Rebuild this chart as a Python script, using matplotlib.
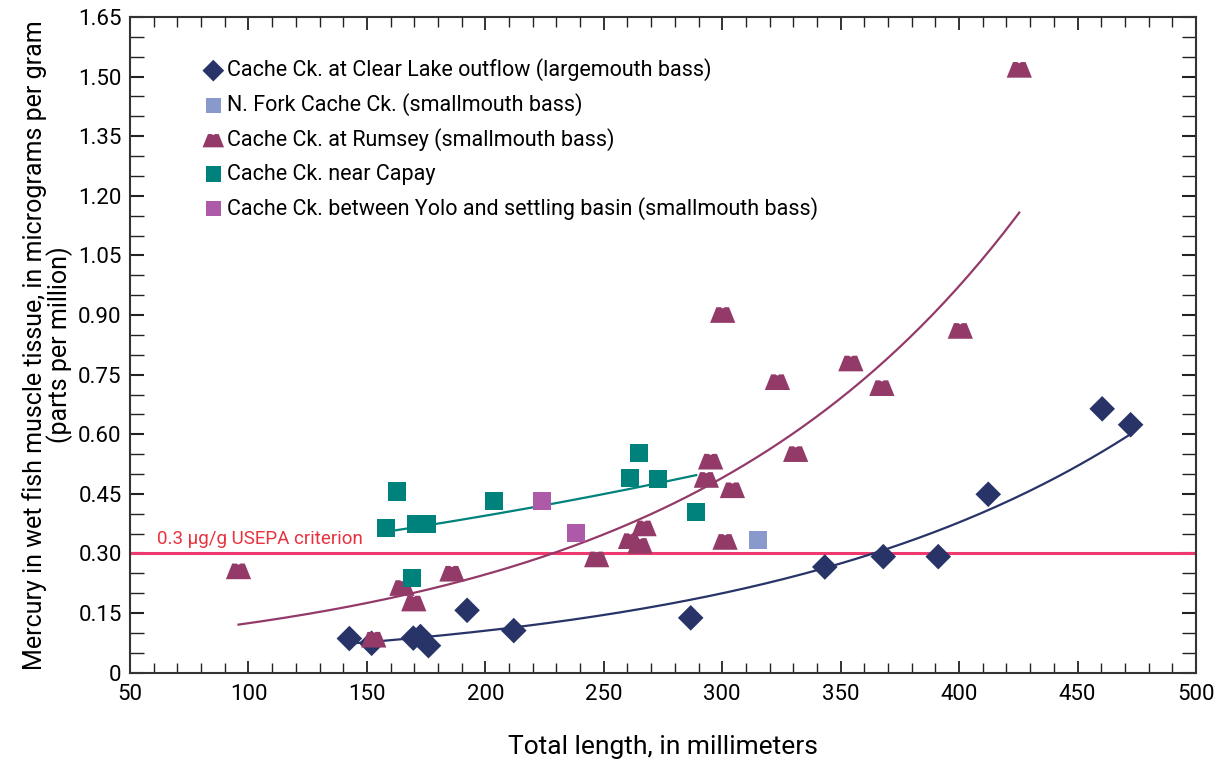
import numpy as np
import matplotlib
matplotlib.use("Agg")
import matplotlib.pyplot as plt
from matplotlib.ticker import MultipleLocator, FixedLocator

plt.rcParams['font.family'] = ['Roboto', 'DejaVu Sans']

# ---- data ----
clear_x = [142.6, 152.0, 169.6, 172.6, 176.0, 192.3, 212.0, 286.7, 343.3, 368.0, 391.2, 412.3, 460.4, 472.4]
clear_y = [0.086, 0.074, 0.087, 0.091, 0.068, 0.157, 0.106, 0.138, 0.266, 0.292, 0.292, 0.449, 0.664, 0.624]

nfork_x = [315.1]
nfork_y = [0.335]

rumsey_x = [95.8, 152.9, 164.8, 169.8, 185.9, 247.0, 261.3, 265.3, 267.0, 293.3, 295.1, 304.3,
            301.2, 331.0, 300.2, 323.3, 354.3, 367.4, 400.5, 425.4]
rumsey_y = [0.255, 0.083, 0.213, 0.174, 0.249, 0.285, 0.331, 0.319, 0.363, 0.485, 0.531, 0.459,
            0.329, 0.550, 0.900, 0.731, 0.778, 0.716, 0.860, 1.517]

capay_x = [158.0, 162.7, 170.9, 175.4, 169.0, 203.8, 264.9, 261.0, 273.0, 289.0]
capay_y = [0.365, 0.456, 0.375, 0.375, 0.239, 0.431, 0.552, 0.491, 0.487, 0.405]

yolo_x = [224.0, 238.1]
yolo_y = [0.431, 0.351]

criterion = 0.3

labels = ["Cache Ck. at Clear Lake outflow (largemouth bass)",
          "N. Fork Cache Ck. (smallmouth bass)",
          "Cache Ck. at Rumsey (smallmouth bass)",
          "Cache Ck. near Capay",
          "Cache Ck. between Yolo and settling basin (smallmouth bass)"]

x_ticks = [50, 100, 150, 200, 250, 300, 350, 400, 450, 500]
y_ticks = [0, 0.15, 0.30, 0.45, 0.60, 0.75, 0.90, 1.05, 1.20, 1.35, 1.50, 1.65]
y_ticklabels = ["0", "0.15", "0.30", "0.45", "0.60", "0.75", "0.90", "1.05", "1.20", "1.35", "1.50", "1.65"]

# colours
c_clear = "#283468"
c_nfork = "#8a99cb"
c_rumsey = "#933a69"
c_capay = "#00827c"
c_yolo = "#ad5ba8"
c_crit = "#ee3a6f"
c_crit_text = "#e8323f"

fig = plt.figure(figsize=(12.14, 7.64), dpi=100)
ax = fig.add_axes([130/1214, 1 - 672.7/764, (1196-130)/1214, (672.7-17)/764])

# trapezoid marker for Rumsey
trap = [(-1.0, -0.62), (1.0, -0.62), (0.5, 0.62), (0.15, 0.62), (0.0, 0.52), (-0.15, 0.62), (-0.5, 0.62), (-1.0, -0.62)]

def expfit(xs, ys):
    xs = np.asarray(xs); ys = np.asarray(ys)
    b, lna = np.polyfit(xs, np.log(ys), 1)
    xx = np.linspace(xs.min(), xs.max(), 200)
    return xx, np.exp(lna) * np.exp(b * xx)

# criterion line
ax.axhline(criterion, color=c_crit, lw=2.2, zorder=2)
ax.text(61.5, criterion + 0.013, "0.3 µg/g USEPA criterion", color=c_crit_text, fontsize=13.5,
        ha='left', va='bottom', zorder=3)

# trend lines
for xs, ys, c in [(clear_x, clear_y, c_clear), (rumsey_x, rumsey_y, c_rumsey), (capay_x, capay_y, c_capay)]:
    xx, yy = expfit(xs, ys)
    ax.plot(xx, yy, color=c, lw=1.6, zorder=3)

ax.scatter(clear_x, clear_y, marker='D', s=170, color=c_clear, edgecolors='none', zorder=4, label=labels[0])
ax.scatter(nfork_x, nfork_y, marker='s', s=170, color=c_nfork, edgecolors='none', zorder=4, label=labels[1])
ax.scatter(rumsey_x, rumsey_y, marker=trap, s=330, color=c_rumsey, edgecolors='none', zorder=4, label=labels[2])
ax.scatter(capay_x, capay_y, marker='s', s=170, color=c_capay, edgecolors='none', zorder=4, label=labels[3])
ax.scatter(yolo_x, yolo_y, marker='s', s=170, color=c_yolo, edgecolors='none', zorder=4, label=labels[4])

ax.set_xlim(50, 500)
ax.set_ylim(0, 1.65)
ax.xaxis.set_major_locator(FixedLocator(x_ticks))
ax.xaxis.set_minor_locator(MultipleLocator(10))
ax.yaxis.set_major_locator(FixedLocator(y_ticks))
ax.set_yticklabels(y_ticklabels)
ax.yaxis.set_minor_locator(MultipleLocator(0.05))

ax.tick_params(which='both', direction='in', top=True, right=True, labelsize=16, color='#222222')
ax.tick_params(axis='x', which='major', length=9, width=1.3, pad=8)
ax.tick_params(axis='x', which='minor', length=7, width=1.0)
ax.tick_params(axis='y', which='major', length=10, width=1.5, pad=6)
ax.tick_params(axis='y', which='minor', length=10, width=1.0)
for s in ax.spines.values():
    s.set_linewidth(1.5)
    s.set_color('#333333')

ax.set_xlabel("Total length, in millimeters", fontsize=19, labelpad=22)
ax.set_ylabel("Mercury in wet fish muscle tissue, in micrograms per gram\n(parts per million)",
              fontsize=18, labelpad=4, linespacing=0.95)

leg = ax.legend(loc='upper left', bbox_to_anchor=(0.062, 0.95), frameon=False, fontsize=15.5,
                handlelength=0.8, handletextpad=0.25, labelspacing=0.56, borderaxespad=0,
                scatterpoints=1, markerscale=0.85)

fig.savefig("out.png", dpi=100)
